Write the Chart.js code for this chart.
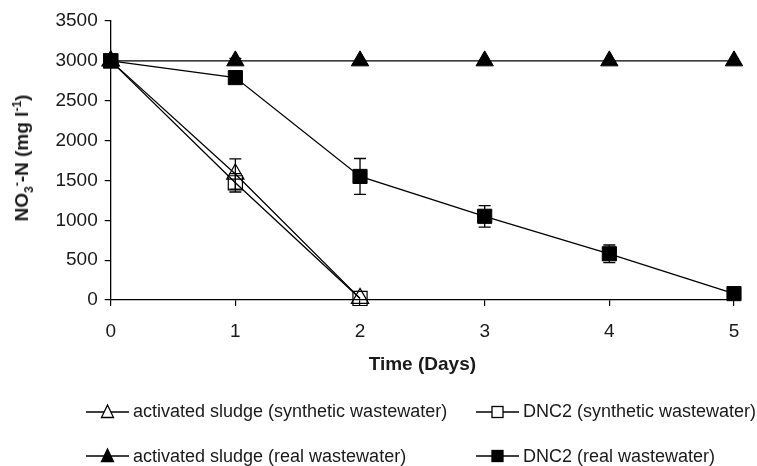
<!DOCTYPE html>
<html><head><meta charset="utf-8">
<script src="https://cdn.jsdelivr.net/npm/chart.js@4"></script>
<style>
html,body{margin:0;padding:0;background:#fff;}
#wrap{position:relative;width:757px;height:466px;overflow:hidden;}
#c{position:absolute;left:0;top:0;}
#ytitle{position:absolute;left:22px;top:158px;transform:translate(-50%,-50%) rotate(-90deg);font:bold 19px "Liberation Sans",Arial,sans-serif;white-space:nowrap;color:#1a1a1a;}
#ytitle sub,#ytitle sup{font-size:12px;line-height:0;}
.leg{position:absolute;display:flex;align-items:center;font:18px "Liberation Sans",Arial,sans-serif;white-space:nowrap;color:#1a1a1a;transform:translateY(-50%);}
.leg svg{margin-right:4px;display:block;}
</style></head>
<body>
<div id="wrap">
<canvas id="c" width="757" height="466"></canvas>
<div id="ytitle">NO<sub>3</sub><sup>-</sup>-N (mg l<sup>-1</sup>)</div>
</div>
<script>
// ---- data ----
const days = [0, 1, 2, 3, 4, 5];
const xTicks = [0, 1, 2, 3, 4, 5];
const yTicks = [0, 500, 1000, 1500, 2000, 2500, 3000, 3500];
const seriesLabels = [
  'activated sludge (synthetic wastewater)',
  'DNC2 (synthetic wastewater)',
  'activated sludge (real wastewater)',
  'DNC2 (real wastewater)'
];
const asSynth    = [3000, 1580, 20];
const asSynthErr = [0, 190, 0];
const dncSynth    = [3000, 1470, 20];
const dncSynthErr = [0, 115, 0];
const asReal    = [3000, 3000, 3000, 3000, 3000, 3000];
const asRealErr = [0, 30, 0, 0, 0, 0];
const dncReal    = [3000, 2790, 1550, 1050, 580, 80];
const dncRealErr = [0, 50, 225, 135, 110, 0];

const seriesValues = [asSynth, dncSynth, asReal, dncReal];
const seriesErrors = [asSynthErr, dncSynthErr, asRealErr, dncRealErr];
const seriesStyle = ['triangle', 'rect', 'triangle', 'rect'];
const seriesFilled = [false, false, true, true];

const toPts = vals => vals.map((v, i) => ({x: days[i], y: v}));

const errorBars = {
  id: 'errorBars',
  beforeDatasetsDraw(chart) {
    const ctx = chart.ctx, xs = chart.scales.x, ys = chart.scales.y;
    ctx.save();
    ctx.strokeStyle = '#000';
    ctx.lineWidth = 1.3;
    seriesValues.forEach((vals, i) => {
      const errs = seriesErrors[i];
      vals.forEach((v, j) => {
        const e = errs[j];
        if (!e) return;
        const x = xs.getPixelForValue(days[j]);
        const yt = ys.getPixelForValue(v + e);
        const yb = ys.getPixelForValue(v - e);
        ctx.beginPath();
        ctx.moveTo(x, yt); ctx.lineTo(x, yb);
        ctx.moveTo(x - 6, yt); ctx.lineTo(x + 6, yt);
        ctx.moveTo(x - 6, yb); ctx.lineTo(x + 6, yb);
        ctx.stroke();
      });
    });
    ctx.restore();
  }
};

const font = {family: '"Liberation Sans", Arial, sans-serif', size: 19};

new Chart(document.getElementById('c'), {
  type: 'line',
  data: {
    datasets: seriesValues.map((vals, i) => ({
      label: seriesLabels[i],
      data: toPts(vals),
      borderColor: '#000',
      borderWidth: 1.3,
      tension: 0,
      fill: false,
      clip: false,
      pointStyle: seriesStyle[i],
      pointRadius: 10,
      pointHoverRadius: 10,
      pointBackgroundColor: seriesFilled[i] ? '#000' : 'rgba(0,0,0,0)',
      pointBorderColor: '#000',
      pointBorderWidth: seriesFilled[i] ? 1 : 1.2
    }))
  },
  options: {
    responsive: false,
    animation: false,
    events: [],
    layout: {padding: {left: 0, right: 23, top: 21, bottom: 89.6}},
    plugins: {legend: {display: false}, tooltip: {enabled: false}},
    scales: {
      x: {
        type: 'linear', min: 0, max: 5,
        afterBuildTicks: s => { s.ticks = xTicks.map(v => ({value: v})); },
        afterFit: s => { s.height = 76.4; },
        ticks: {font, color: '#1a1a1a', padding: 14, callback: v => String(v)},
        grid: {display: true, drawOnChartArea: false, drawTicks: true, tickLength: 6, color: '#000', lineWidth: 1.2},
        border: {display: true, color: '#000', width: 1.3},
        title: {display: true, text: 'Time (Days)', color: '#1a1a1a', padding: {top: 0, bottom: 0},
                font: {family: '"Liberation Sans", Arial, sans-serif', size: 19, weight: 'bold', lineHeight: 1.2}}
      },
      y: {
        type: 'linear', min: 0, max: 3500,
        afterBuildTicks: s => { s.ticks = yTicks.map(v => ({value: v})); },
        afterFit: s => { s.width = 110.7; },
        ticks: {font, color: '#1a1a1a', padding: 7, callback: v => String(v)},
        grid: {display: true, drawOnChartArea: false, drawTicks: true, tickLength: 6, color: '#000', lineWidth: 1.2},
        border: {display: true, color: '#000', width: 1.3}
      }
    }
  },
  plugins: [errorBars]
});

// ---- HTML legend ----
const legPos = [[86, 411.5], [476, 411.5], [86, 456], [476, 456]];
const wrap = document.getElementById('wrap');
seriesLabels.forEach((lab, i) => {
  const d = document.createElement('div');
  d.className = 'leg';
  d.style.left = legPos[i][0] + 'px';
  d.style.top = legPos[i][1] + 'px';
  const fill = seriesFilled[i] ? '#000' : '#fff';
  let mk;
  if (seriesStyle[i] === 'triangle') {
    mk = `<polygon points="21.5,4 27.5,16.5 15.5,16.5" fill="${fill}" stroke="#000" stroke-width="1.3"/>`;
  } else {
    mk = `<rect x="16" y="5.5" width="11" height="11" fill="${fill}" stroke="#000" stroke-width="1.3"/>`;
  }
  d.innerHTML = `<svg width="43" height="22" viewBox="0 0 43 22"><line x1="0" y1="11" x2="43" y2="11" stroke="#000" stroke-width="1.3"/>${mk}</svg><span>${lab}</span>`;
  wrap.appendChild(d);
});
</script>
</body></html>
